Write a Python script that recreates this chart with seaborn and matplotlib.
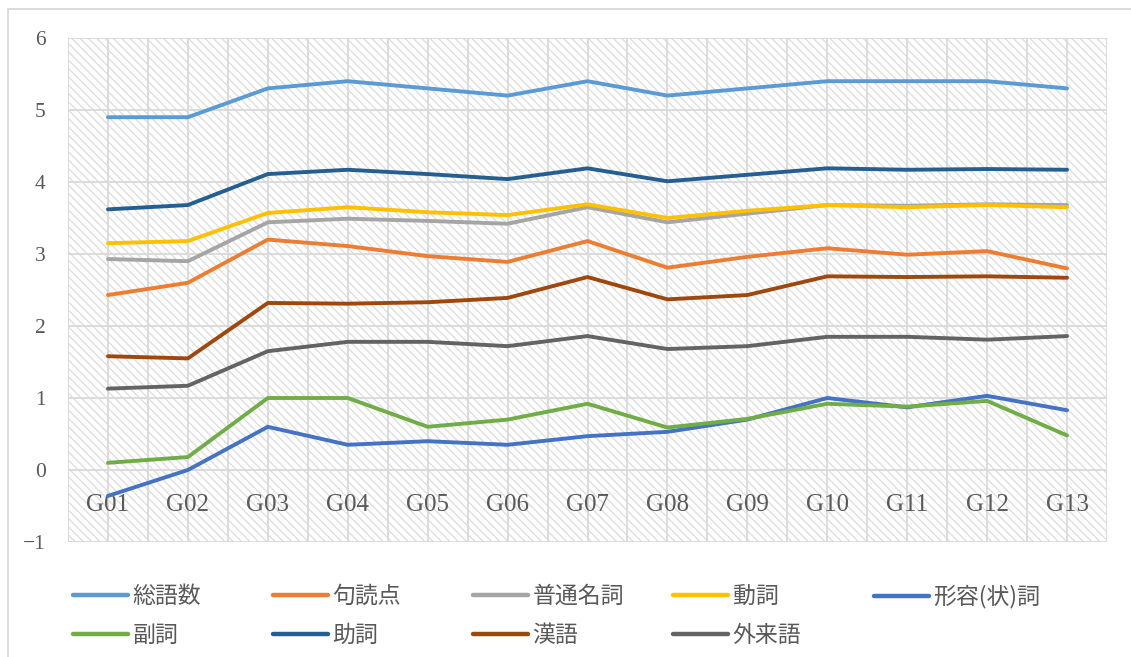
import numpy as np
import pandas as pd
import matplotlib
matplotlib.use("Agg")
import matplotlib.pyplot as plt
from matplotlib.patches import Rectangle
from matplotlib.lines import Line2D
import seaborn as sns

# ---- data ----
groups = ["G01", "G02", "G03", "G04", "G05", "G06", "G07", "G08", "G09", "G10", "G11", "G12", "G13"]
series_names = ["総語数", "句読点", "普通名詞", "動詞", "形容(状)詞", "副詞", "助詞", "漢語", "外来語"]

total_words = [4.90, 4.90, 5.30, 5.40, 5.30, 5.20, 5.40, 5.20, 5.30, 5.40, 5.40, 5.40, 5.30]
punctuation = [2.43, 2.60, 3.20, 3.11, 2.97, 2.89, 3.18, 2.81, 2.96, 3.08, 2.99, 3.04, 2.80]
common_nouns = [2.93, 2.90, 3.44, 3.49, 3.46, 3.42, 3.65, 3.44, 3.56, 3.68, 3.67, 3.69, 3.68]
verbs = [3.15, 3.18, 3.57, 3.65, 3.58, 3.54, 3.69, 3.50, 3.60, 3.68, 3.65, 3.68, 3.65]
adjectives = [-0.36, 0.00, 0.60, 0.35, 0.40, 0.35, 0.47, 0.53, 0.70, 1.00, 0.87, 1.03, 0.83]
adverbs = [0.10, 0.18, 1.00, 1.00, 0.60, 0.70, 0.92, 0.59, 0.71, 0.92, 0.88, 0.96, 0.48]
particles = [3.62, 3.68, 4.11, 4.17, 4.11, 4.04, 4.19, 4.01, 4.10, 4.19, 4.17, 4.18, 4.17]
sino_words = [1.58, 1.55, 2.32, 2.31, 2.33, 2.39, 2.68, 2.37, 2.43, 2.69, 2.68, 2.69, 2.67]
loan_words = [1.13, 1.17, 1.65, 1.78, 1.78, 1.72, 1.86, 1.68, 1.72, 1.85, 1.85, 1.81, 1.86]

colors = ["#5B9BD5", "#ED7D31", "#A5A5A5", "#FFC000", "#4472C4",
          "#70AD47", "#255E91", "#9E480E", "#636363"]

all_values = [total_words, punctuation, common_nouns, verbs, adjectives,
              adverbs, particles, sino_words, loan_words]

rows = []
for name, vals in zip(series_names, all_values):
    for i, (g, v) in enumerate(zip(groups, vals)):
        rows.append({"group": g, "x": i, "series": name, "value": v})
df = pd.DataFrame(rows)

# ---- style ----
sns.set_style("white")
plt.rcParams["font.family"] = ["Liberation Serif", "Noto Sans CJK JP", "DejaVu Sans"]
plt.rcParams["hatch.linewidth"] = 0.9

W, H = 1131, 657
fig = plt.figure(figsize=(W / 100, H / 100), dpi=100)
ax = fig.add_axes([68 / W, 1 - 542 / H, (1107 - 68) / W, (542 - 38) / H])

grid_c = "#D9D9D9"

# hatched plot-area background
ax.add_patch(Rectangle((0, 0), 1, 1, transform=ax.transAxes, fill=False,
                       hatch="\\\\\\\\", edgecolor="#DCDCDC", linewidth=0, zorder=0))

palette = dict(zip(series_names, colors))
sns.lineplot(data=df, x="x", y="value", hue="series", hue_order=series_names,
             palette=palette, linewidth=2.8, ax=ax, legend=False, zorder=3,
             solid_capstyle="round", solid_joinstyle="round")

ax.set_xlim(-0.5, len(groups) - 0.5)
ax.set_ylim(-1, 6)
ax.set_yticks(range(-1, 7))
ax.set_yticklabels(["−1", "0", "1", "2", "3", "4", "5", "6"])
ax.set_xticks(range(len(groups)))
ax.set_xticks(np.arange(-0.5, len(groups), 1.0), minor=True)
ax.set_xticklabels(groups)

ax.grid(True, which="major", axis="y", color=grid_c, linewidth=1.3, zorder=1)
ax.grid(True, which="both", axis="x", color=grid_c, linewidth=1.3, zorder=1)
ax.set_axisbelow(True)

for s in ["top", "right", "left"]:
    ax.spines[s].set_visible(False)
ax.spines["bottom"].set_position(("data", 0))
ax.spines["bottom"].set_visible(False)

ax.tick_params(axis="x", which="both", length=0, pad=17, labelsize=18, labelcolor="#595959")
ax.tick_params(axis="y", length=0, pad=16, labelsize=15.5, labelcolor="#595959")
ax.set_xlabel("")
ax.set_ylabel("")

# chart-area frame (left & top visible)
fig.add_artist(Rectangle((8 / W, -0.1), 1.2, 1 - 9 / H + 0.1, transform=fig.transFigure,
                         fill=False, edgecolor=grid_c, linewidth=1.3))

# ---- legend: 5 columns x 2 rows ----
col_x = [73, 273, 473, 673, 874]
ncols = 5
for c in range(ncols):
    idx = [i for i in (c, c + ncols) if i < len(series_names)]
    handles = [Line2D([0], [0], color=colors[i], linewidth=3.2, solid_capstyle="round") for i in idx]
    labels = [series_names[i] for i in idx]
    fig.legend(handles, labels, loc="upper left",
               bbox_to_anchor=(col_x[c] / W, 1 - 585 / H),
               bbox_transform=fig.transFigure, frameon=False,
               prop={"family": ["Noto Sans CJK JP", "DejaVu Sans"], "size": 16.5},
               labelcolor="#595959", handlelength=2.4, handletextpad=0.2,
               labelspacing=0.68, borderaxespad=0, borderpad=0)

fig.savefig("out.png", dpi=100, facecolor="white")
